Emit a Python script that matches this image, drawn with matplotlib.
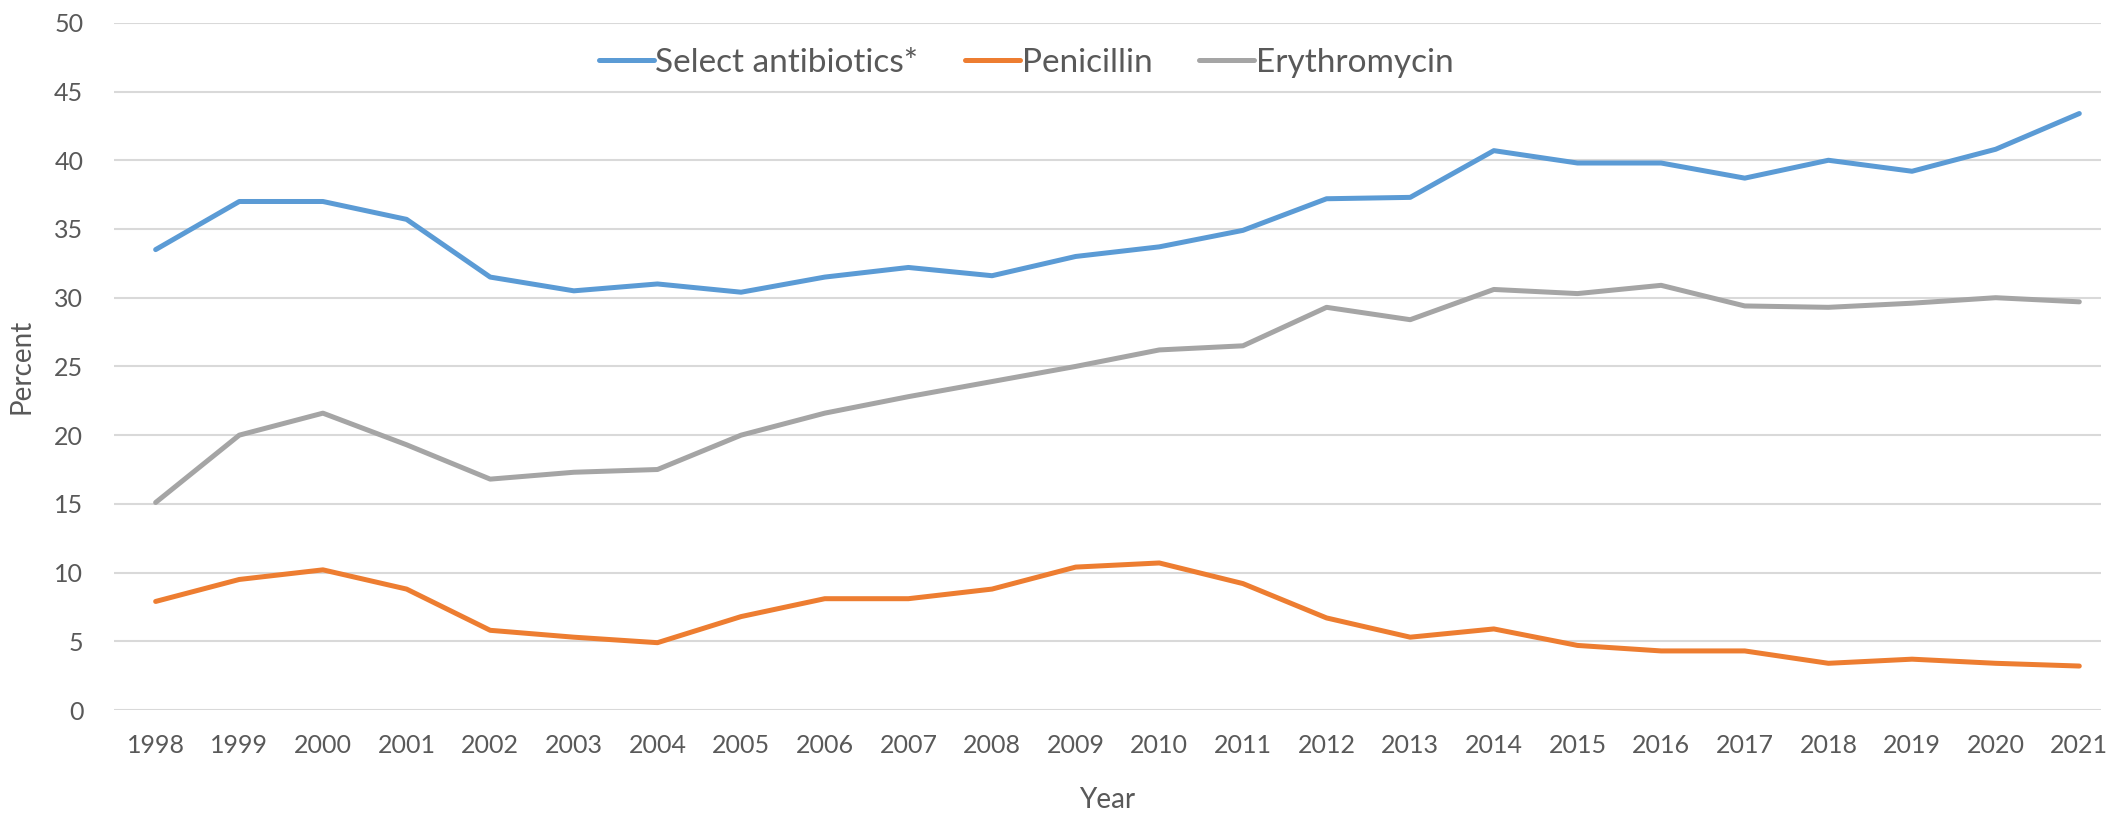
import numpy as np
import matplotlib
matplotlib.use("Agg")
import matplotlib.pyplot as plt

# ---- data ----
years = [str(y) for y in range(1998, 2022)]

select_antibiotics = [33.5, 37.0, 37.0, 35.7, 31.5, 30.5, 31.0, 30.4, 31.5, 32.2,
                      31.6, 33.0, 33.7, 34.9, 37.2, 37.3, 40.7, 39.8, 39.8, 38.7,
                      40.0, 39.2, 40.8, 43.4]
penicillin = [7.9, 9.5, 10.2, 8.8, 5.8, 5.3, 4.9, 6.8, 8.1, 8.1,
              8.8, 10.4, 10.7, 9.2, 6.7, 5.3, 5.9, 4.7, 4.3, 4.3,
              3.4, 3.7, 3.4, 3.2]
erythromycin = [15.1, 20.0, 21.6, 19.3, 16.8, 17.3, 17.5, 20.0, 21.6, 22.8,
                23.9, 25.0, 26.2, 26.5, 29.3, 28.4, 30.6, 30.3, 30.9, 29.4,
                29.3, 29.6, 30.0, 29.7]

series_names = ["Select antibiotics*", "Penicillin", "Erythromycin"]
series_colors = ["#5B9BD5", "#ED7D31", "#A5A5A5"]
y_ticks = [0, 5, 10, 15, 20, 25, 30, 35, 40, 45, 50]

# ---- figure ----
plt.rcParams["font.family"] = ["Lato", "DejaVu Sans"]
text_color = "#595959"

fig = plt.figure(figsize=(21.08, 8.15), dpi=100)
ax = fig.add_axes([0.054, 0.1288, 0.9427, 0.8432])

x = np.arange(len(years))
for vals, name, col in zip([select_antibiotics, penicillin, erythromycin],
                           series_names, series_colors):
    ax.plot(x, vals, color=col, lw=3.6, label=name, solid_capstyle="round",
            solid_joinstyle="round")

ax.set_xlim(-0.5, 23.26)
ax.set_ylim(0, 50)
ax.set_xticks(x)
ax.set_xticklabels(years)
ax.set_yticks(y_ticks)
ax.yaxis.grid(True, color="#D9D9D9", lw=1.5)
ax.set_axisbelow(True)
for s in ax.spines.values():
    s.set_visible(False)
ax.tick_params(axis="both", length=0, labelsize=18, labelcolor=text_color)
ax.tick_params(axis="x", pad=17)
ax.tick_params(axis="y", pad=22)

ax.set_xlabel("Year", fontsize=20, color=text_color, labelpad=22)
ax.set_ylabel("Percent", fontsize=20, color=text_color, labelpad=14)

leg = ax.legend(loc="center", bbox_to_anchor=(0.459, 0.942), ncol=3,
                frameon=False, fontsize=24, handlelength=1.65,
                handletextpad=0.05, columnspacing=1.4)
for t in leg.get_texts():
    t.set_color(text_color)

fig.savefig("out.png", dpi=100, facecolor="white")
